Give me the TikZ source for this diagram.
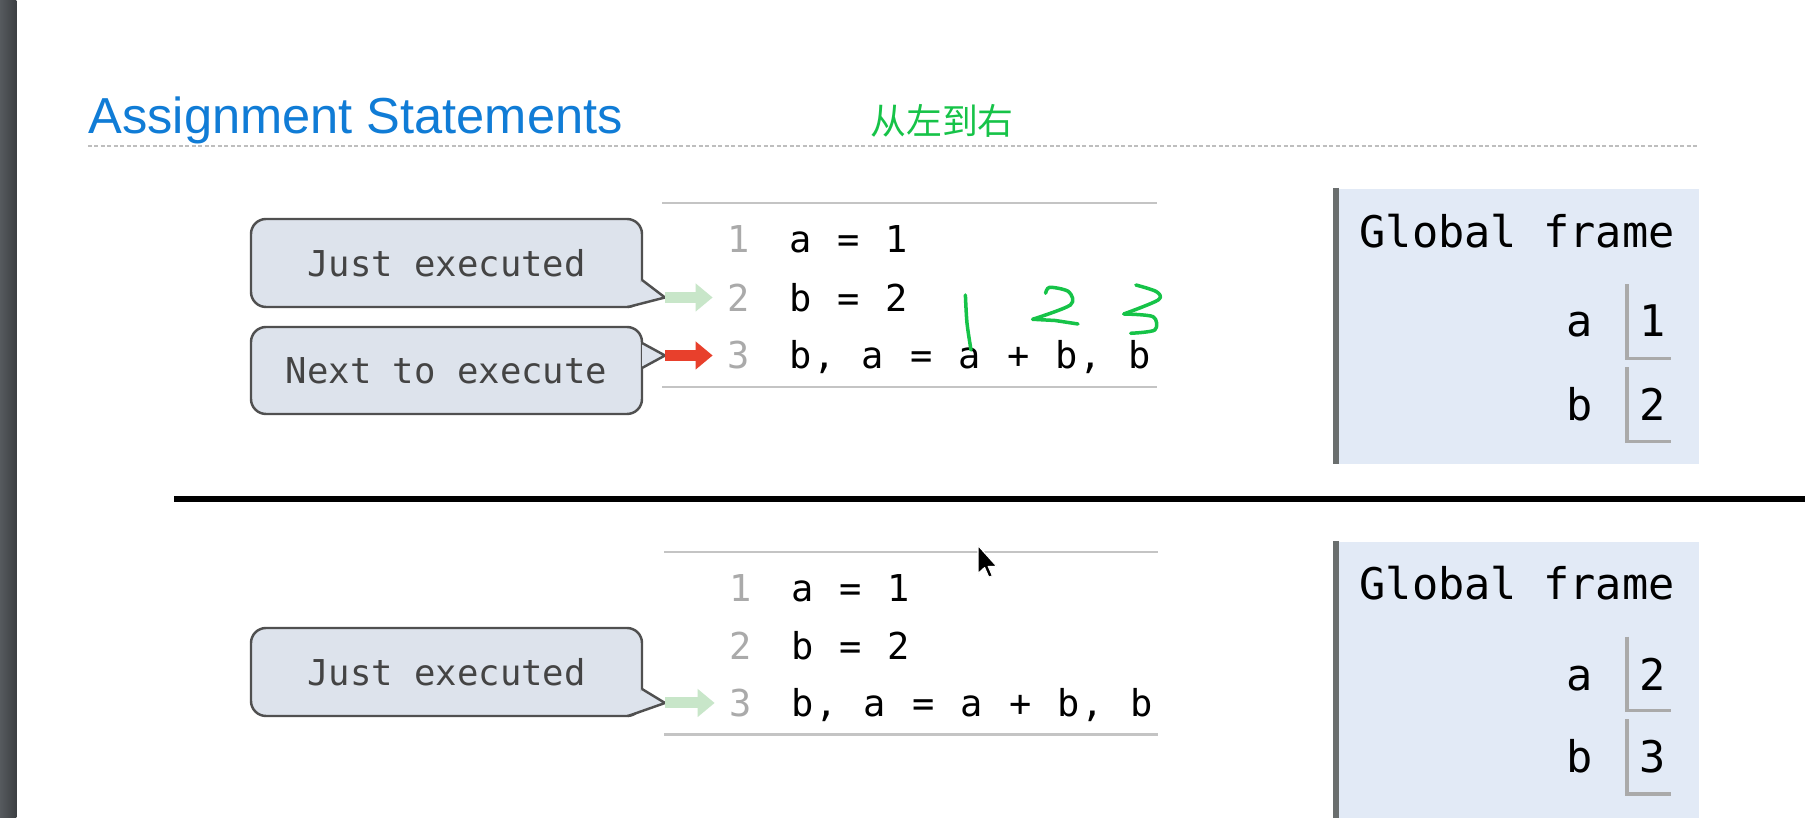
\documentclass[tikz,border=0pt]{standalone}
\usepackage{fontspec}
\setmainfont{Liberation Sans}
\newfontfamily\cjkfont{Noto Sans CJK SC}
\newfontfamily\monofont{DejaVu Sans Mono}
\newfontfamily\codefont[LetterSpace=5.3, WordSpace=1.08]{DejaVu Sans Mono}
\usetikzlibrary{positioning, arrows.meta, calc}

\definecolor{titleblue}{RGB}{16,124,214}
\definecolor{inkgreen}{RGB}{22,195,72}
\definecolor{rulegray}{RGB}{196,196,196}
\definecolor{dashgray}{RGB}{190,190,190}
\definecolor{lnumgray}{RGB}{170,170,170}
\definecolor{calloutfill}{RGB}{221,227,236}
\definecolor{calloutdraw}{RGB}{80,80,80}
\definecolor{callouttext}{RGB}{68,68,68}
\definecolor{justgreen}{RGB}{200,230,201}
\definecolor{nextred}{RGB}{232,64,44}
\definecolor{framefill}{RGB}{226,234,246}
\definecolor{framebarcol}{RGB}{106,110,110}
\definecolor{valgray}{RGB}{170,170,170}
\definecolor{edgegray}{RGB}{86,90,94}
\definecolor{edgedark}{RGB}{60,63,66}

\begin{document}
\begin{tikzpicture}[
    x=1cm, y=-1cm,
    slidetitle/.style={anchor=base west, inner sep=0pt, text=titleblue,
                       font=\fontsize{14.4pt}{17pt}\selectfont},
    note/.style={inner sep=0pt, text=inkgreen, font=\cjkfont\fontsize{10.2pt}{12pt}\selectfont},
    callout/.style={rectangle, draw=calloutdraw, line width=0.7pt, rounded corners=0.15cm,
                    fill=calloutfill, minimum width=3.91cm, inner sep=0pt, text=callouttext,
                    font=\monofont\fontsize{10.13pt}{12pt}\selectfont},
    calloutline/.style={draw=calloutdraw, line width=0.7pt, line join=round},
    lnum/.style={inner sep=0pt, text=lnumgray, font=\monofont\fontsize{10.53pt}{12pt}\selectfont},
    code/.style={inner sep=0pt, font=\codefont\fontsize{10.53pt}{12pt}\selectfont},
    coderule/.style={draw=rulegray, line width=0.6pt},
    ptr/.style={-{Triangle[length=0.17cm, width=0.27cm]}, line width=0.11cm},
    framebox/.style={rectangle, fill=framefill, minimum width=3.65cm, inner sep=0pt},
    framebar/.style={draw=framebarcol, line width=0.06cm},
    frametitle/.style={anchor=base west, inner sep=0pt, font=\monofont\fontsize{12.4pt}{14pt}\selectfont},
    valtext/.style={inner sep=0pt, font=\monofont\fontsize{12.4pt}{14pt}\selectfont},
    vartext/.style={inner sep=0pt, font=\monofont\fontsize{12.4pt}{14pt}\selectfont},
    valline/.style={draw=valgray, line width=0.033cm},
    ink/.style={draw=inkgreen, line width=0.035cm, line cap=round, line join=round}
]

    % Page and window edge
    \useasboundingbox (0,0) rectangle (18.2,8.18);
    \fill[white] (0,0) rectangle (18.2,8.18);
    \shade[left color=edgegray, right color=edgedark] (0,0) rectangle (0.165,8.18);

    % Title
    \node[slidetitle] (title) at (0.877,1.34) {Assignment Statements};
    \node[note] (ltr) at (9.42,1.205) {从左到右};
    \draw[dashgray, line width=0.4pt, dash pattern=on 0.04cm off 0.025cm] (0.88,1.46) -- (16.98,1.46);

    % Step 1: code
    \draw[coderule] (6.62,2.03) -- (11.565,2.03);
    \draw[coderule] (6.62,3.87) -- (11.565,3.87);
    \node[lnum] (l1n) at (7.385,2.395) {1};
    \node[lnum] (l2n) at (7.385,2.975) {2};
    \node[lnum] (l3n) at (7.385,3.555) {3};
    \node[code, base right=0.38cm of l1n] (l1c) {a = 1};
    \node[code, base right=0.38cm of l2n] (l2c) {b = 2};
    \node[code, base right=0.38cm of l3n] (l3c) {b, a = a + b, b};

    % Step 1: callouts
    \node[callout, minimum height=0.88cm] (just1) at (4.465,2.63) {Just executed};
    \coordinate (tip1) at (6.65,2.975);
    \fill[calloutfill] (6.42,2.80) -- (tip1) -- (6.28,3.07) -- cycle;
    \draw[calloutline] (6.42,2.80) -- (tip1) -- (6.28,3.07);

    \node[callout, minimum height=0.87cm] (next1) at (4.465,3.705) {Next to execute};
    \coordinate (tip2) at (6.65,3.555);
    \fill[calloutfill] (6.42,3.43) -- (tip2) -- (6.42,3.68) -- cycle;
    \draw[calloutline] (6.42,3.43) -- (tip2) -- (6.42,3.68);

    \draw[ptr, justgreen, shorten >=0.14cm] (tip1) -- (l2n.west);
    \draw[ptr, nextred, shorten >=0.14cm] (tip2) -- (l3n.west);

    % Handwritten evaluation order
    \draw[ink] plot[smooth] coordinates {(9.654,2.95) (9.67,3.23) (9.71,3.50)};
    \draw[ink] plot[smooth] coordinates {(10.456,2.933) (10.498,2.873) (10.687,2.917) (10.704,3.05) (10.326,3.193)}
               -- (10.55,3.205) -- (10.78,3.24);
    \draw[ink] plot[smooth] coordinates {(11.359,2.85) (11.565,2.917) (11.582,3.00) (11.238,3.14)};
    \draw[ink] plot[smooth] coordinates {(11.238,3.14) (11.531,3.167) (11.548,3.30) (11.307,3.333)};

    % Step 1: frame
    \node[framebox, minimum height=2.75cm, anchor=north west] (frame1) at (13.33,1.88) {};
    \draw[framebar] ([xshift=0.03cm]frame1.north west) -- ([xshift=0.03cm]frame1.south west);
    \node[frametitle] (gf1) at (13.59,2.473) {Global frame};
    \node[valtext] (va1) at (16.53,3.21) {1};
    \node[vartext, base left=0.46cm of va1] (na1) {a};
    \draw[valline] (16.27,2.843) |- (16.71,3.583);
    \node[valtext] (vb1) at (16.53,4.04) {2};
    \node[vartext, base left=0.46cm of vb1] (nb1) {b};
    \draw[valline] (16.27,3.673) |- (16.71,4.417);

    % Divider
    \draw[line width=0.055cm] (1.74,4.99) -- (18.05,4.99);

    % Step 2: code
    \draw[coderule] (6.64,5.52) -- (11.58,5.52);
    \draw[coderule] (6.64,7.345) -- (11.58,7.345);
    \node[lnum] (m1n) at (7.405,5.88) {1};
    \node[lnum] (m2n) at (7.405,6.455) {2};
    \node[lnum] (m3n) at (7.405,7.03) {3};
    \node[code, base right=0.38cm of m1n] (m1c) {a = 1};
    \node[code, base right=0.38cm of m2n] (m2c) {b = 2};
    \node[code, base right=0.38cm of m3n] (m3c) {b, a = a + b, b};

    % Step 2: callout
    \node[callout, minimum height=0.88cm] (just2) at (4.465,6.72) {Just executed};
    \coordinate (tip3) at (6.65,7.03);
    \fill[calloutfill] (6.42,6.89) -- (tip3) -- (6.28,7.16) -- cycle;
    \draw[calloutline] (6.42,6.89) -- (tip3) -- (6.28,7.16);
    \draw[ptr, justgreen, shorten >=0.14cm] (tip3) -- (m3n.west);

    % Mouse pointer
    \filldraw[fill=black, draw=white, line width=0.3pt, line join=round]
        (9.78,5.455) -- ++(0,0.28) -- ++(0.066,-0.06) -- ++(0.042,0.096) -- ++(0.036,-0.012)
        -- ++(-0.042,-0.096) -- ++(0.084,0) -- cycle;

    % Step 2: frame
    \node[framebox, minimum height=2.77cm, anchor=north west] (frame2) at (13.33,5.41) {};
    \draw[framebar] ([xshift=0.03cm]frame2.north west) -- ([xshift=0.03cm]frame2.south west);
    \node[frametitle] (gf2) at (13.59,6.00) {Global frame};
    \node[valtext] (va2) at (16.53,6.74) {2};
    \node[vartext, base left=0.46cm of va2] (na2) {a};
    \draw[valline] (16.27,6.367) |- (16.71,7.107);
    \node[valtext] (vb2) at (16.53,7.57) {3};
    \node[vartext, base left=0.46cm of vb2] (nb2) {b};
    \draw[valline] (16.27,7.193) |- (16.71,7.94);

\end{tikzpicture}
\end{document}
